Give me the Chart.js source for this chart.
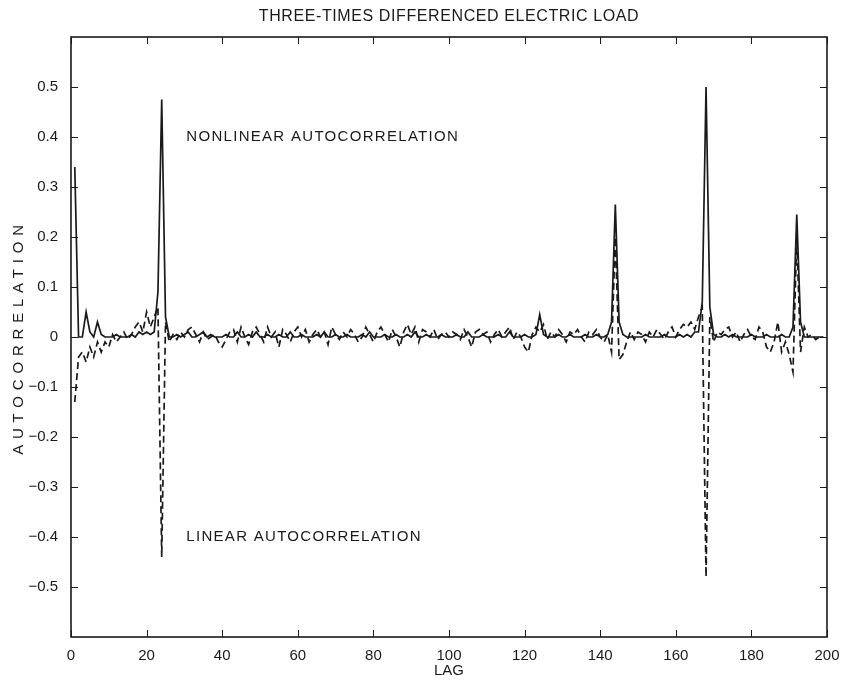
<!DOCTYPE html>
<html>
<head>
<meta charset="utf-8">
<script src="https://cdn.jsdelivr.net/npm/chart.js@4/dist/chart.umd.min.js"></script>
<style>
  html, body { margin: 0; padding: 0; background: #fff; }
  #wrap { width: 843px; height: 681px; }
</style>
</head>
<body>
<div id="wrap"><canvas id="acf" width="843" height="681"></canvas></div>
<script>
// lags 1..199
const lags = Array.from({ length: 199 }, (_, i) => i + 1);

// nonlinear autocorrelation (solid)
const nonlinear = [
  0.34, 0, 0, 0.05, 0.01, 0, 0.03, 0.005, 0, 0,
  0, 0.005, 0, 0, 0, 0.005, 0, 0.01, 0.005, 0.01,
  0.005, 0.01, 0.09, 0.475, 0.04, 0, 0, 0.005, 0, 0.005,
  0.01, 0, 0, 0.005, 0.01, 0, 0.005, 0, 0, 0,
  0.005, 0, 0, 0.01, 0, 0, 0.005, 0, 0.01, 0,
  0, 0.005, 0, 0, 0.005, 0, 0, 0.01, 0, 0,
  0.005, 0, 0, 0, 0.005, 0, 0.01, 0, 0, 0.005,
  0, 0, 0.005, 0, 0, 0, 0.005, 0, 0.01, 0,
  0, 0, 0.005, 0, 0, 0.005, 0, 0, 0.005, 0,
  0.01, 0, 0, 0.005, 0, 0, 0, 0.005, 0, 0,
  0, 0.005, 0, 0, 0.01, 0, 0, 0, 0.005, 0,
  0, 0, 0.005, 0, 0, 0.01, 0, 0, 0, 0.005,
  0, 0, 0.005, 0.045, 0.005, 0, 0, 0, 0.005, 0,
  0, 0.005, 0, 0, 0, 0.005, 0, 0, 0.005, 0,
  0, 0.005, 0.03, 0.265, 0.03, 0.005, 0, 0, 0, 0,
  0, 0.005, 0, 0, 0, 0, 0.005, 0, 0, 0,
  0.005, 0, 0.005, 0, 0.01, 0.01, 0.07, 0.5, 0.06, 0.005,
  0, 0, 0.005, 0, 0.005, 0, 0, 0, 0, 0.005,
  0, 0, 0, 0.005, 0, 0, 0, 0.005, 0, 0,
  0.02, 0.245, 0.03, 0, 0, 0, 0, 0, 0
];

// linear autocorrelation (dashed)
const linear = [
  -0.13, -0.04, -0.03, -0.05, -0.02, -0.04, -0.01, -0.03, -0.01, -0.02,
  0.005, -0.01, 0, 0.01, -0.005, 0.005, 0.02, 0.03, 0.01, 0.05,
  0.02, 0.04, 0.06, -0.44, 0.03, -0.01, 0.005, -0.005, 0.01, 0,
  0.015, 0.02, 0.005, -0.01, 0.01, -0.005, 0, 0.005, -0.01, -0.02,
  -0.005, 0.01, 0.015, -0.01, 0.02, 0, -0.015, 0.01, 0.02, 0.005,
  -0.01, 0.02, 0, 0.01, -0.02, 0.015, 0.005, -0.01, 0.01, 0.02,
  0, 0.015, -0.01, 0.005, 0.015, 0, 0.01, -0.015, 0.02, 0.005,
  -0.005, 0.01, 0, 0.015, 0.005, -0.01, 0, 0.02, 0.005, -0.01,
  0.01, 0.02, 0.005, -0.01, 0.015, 0, -0.02, 0.01, 0.025, 0.005,
  0.02, -0.01, 0.015, 0.01, 0, 0.015, -0.005, 0.005, 0.01, 0,
  0.01, 0.005, -0.005, 0.015, 0, -0.02, 0.01, 0.015, 0.005, 0.01,
  -0.01, 0.005, 0.015, 0, 0.01, 0.02, -0.005, 0.01, 0, -0.02,
  -0.03, 0.005, 0.02, 0.01, 0.025, -0.005, 0.01, 0, 0.015, 0.005,
  -0.01, 0.01, 0.005, 0.015, 0, -0.01, 0.01, 0.005, 0.015, 0,
  -0.01, 0.005, -0.03, 0.2, -0.045, -0.035, -0.01, 0.01, -0.005, 0.01,
  0.005, -0.01, 0.01, 0, 0.015, 0.005, -0.005, 0.01, 0.02, 0,
  0.015, 0.025, 0.02, 0.03, 0.015, 0.04, 0.06, -0.48, 0.04, -0.01,
  0.01, 0.005, 0.015, 0.02, 0, 0.01, -0.01, 0.005, 0.015, 0,
  -0.005, 0.02, 0.01, -0.02, -0.03, -0.01, 0.03, -0.03, -0.01, -0.035,
  -0.07, 0.2, -0.03, 0.02, 0, 0.005, -0.005, 0, 0
];

const xTicks = [0, 20, 40, 60, 80, 100, 120, 140, 160, 180, 200];
const yTicks = [-0.5, -0.4, -0.3, -0.2, -0.1, 0, 0.1, 0.2, 0.3, 0.4, 0.5];

const INK = '#1a1a1a';
const FONT = '"Liberation Sans", Arial, sans-serif';

const toPoints = vals => lags.map((l, i) => ({ x: l, y: vals[i] }));

// box, inward ticks, tick labels and all the texts
const framePlugin = {
  id: 'frame',
  afterDraw(chart) {
    const { ctx: c, chartArea: a, scales: { x, y } } = chart;
    c.save();
    c.strokeStyle = INK;
    c.lineWidth = 1.6;
    c.strokeRect(a.left, a.top, a.right - a.left, a.bottom - a.top);
    c.lineWidth = 1;
    c.beginPath();
    for (const v of xTicks) {
      const px = Math.round(x.getPixelForValue(v)) + 0.5;
      c.moveTo(px, a.bottom); c.lineTo(px, a.bottom - 7);
      c.moveTo(px, a.top);    c.lineTo(px, a.top + 7);
    }
    for (const v of yTicks) {
      const py = Math.round(y.getPixelForValue(v)) + 0.5;
      c.moveTo(a.left, py);  c.lineTo(a.left + 7, py);
      c.moveTo(a.right, py); c.lineTo(a.right - 7, py);
    }
    c.stroke();

    c.fillStyle = INK;
    c.textBaseline = 'middle';

    // tick labels
    c.textAlign = 'center';
    c.font = '15px "Liberation Sans Narrow", ' + FONT;
    for (const v of xTicks) c.fillText(String(v), x.getPixelForValue(v), a.bottom + 19);
    c.textAlign = 'right';
    c.font = '15px ' + FONT;
    for (const v of yTicks) {
      c.fillText(String(v).replace('-', '\u2212'), a.left - 13, y.getPixelForValue(v));
    }

    c.textAlign = 'center';
    c.font = '16px ' + FONT;
    c.letterSpacing = '0.6px';
    c.fillText('THREE-TIMES DIFFERENCED ELECTRIC LOAD', (a.left + a.right) / 2, 17);
    c.letterSpacing = '0px';
    c.font = '15px ' + FONT;
    c.fillText('LAG', x.getPixelForValue(100), 671);

    c.textAlign = 'left';
    c.font = '15px ' + FONT;
    c.letterSpacing = '1.3px';
    c.fillText('NONLINEAR AUTOCORRELATION', x.getPixelForValue(30.5), y.getPixelForValue(0.4));
    c.fillText('LINEAR AUTOCORRELATION', x.getPixelForValue(30.5), y.getPixelForValue(-0.4));

    c.translate(19, y.getPixelForValue(0));
    c.rotate(-Math.PI / 2);
    c.textAlign = 'center';
    c.font = '15px ' + FONT;
    c.letterSpacing = '5.8px';
    c.fillText('AUTOCORRELATION', 0, 0);
    c.restore();
  }
};

new Chart(document.getElementById('acf'), {
  type: 'line',
  data: {
    datasets: [
      {
        label: 'nonlinear',
        data: toPoints(nonlinear),
        borderColor: INK,
        borderWidth: 1.7,
        pointRadius: 0,
        tension: 0
      },
      {
        label: 'linear',
        data: toPoints(linear),
        borderColor: INK,
        borderWidth: 1.7,
        borderDash: [7, 4],
        pointRadius: 0,
        tension: 0
      }
    ]
  },
  options: {
    responsive: false,
    animation: false,
    layout: { padding: { left: 71, right: 16, top: 37, bottom: 44 } },
    plugins: { legend: { display: false }, tooltip: { enabled: false } },
    scales: {
      x: {
        type: 'linear',
        min: 0, max: 200,
        afterFit(s) { s.height = 0; },
        grid: { display: false, drawTicks: false },
        border: { display: false },
        ticks: { display: false }
      },
      y: {
        min: -0.6, max: 0.6,
        afterFit(s) { s.width = 0; },
        grid: { display: false, drawTicks: false },
        border: { display: false },
        ticks: { display: false }
      }
    }
  },
  plugins: [framePlugin]
});
</script>
</body>
</html>
